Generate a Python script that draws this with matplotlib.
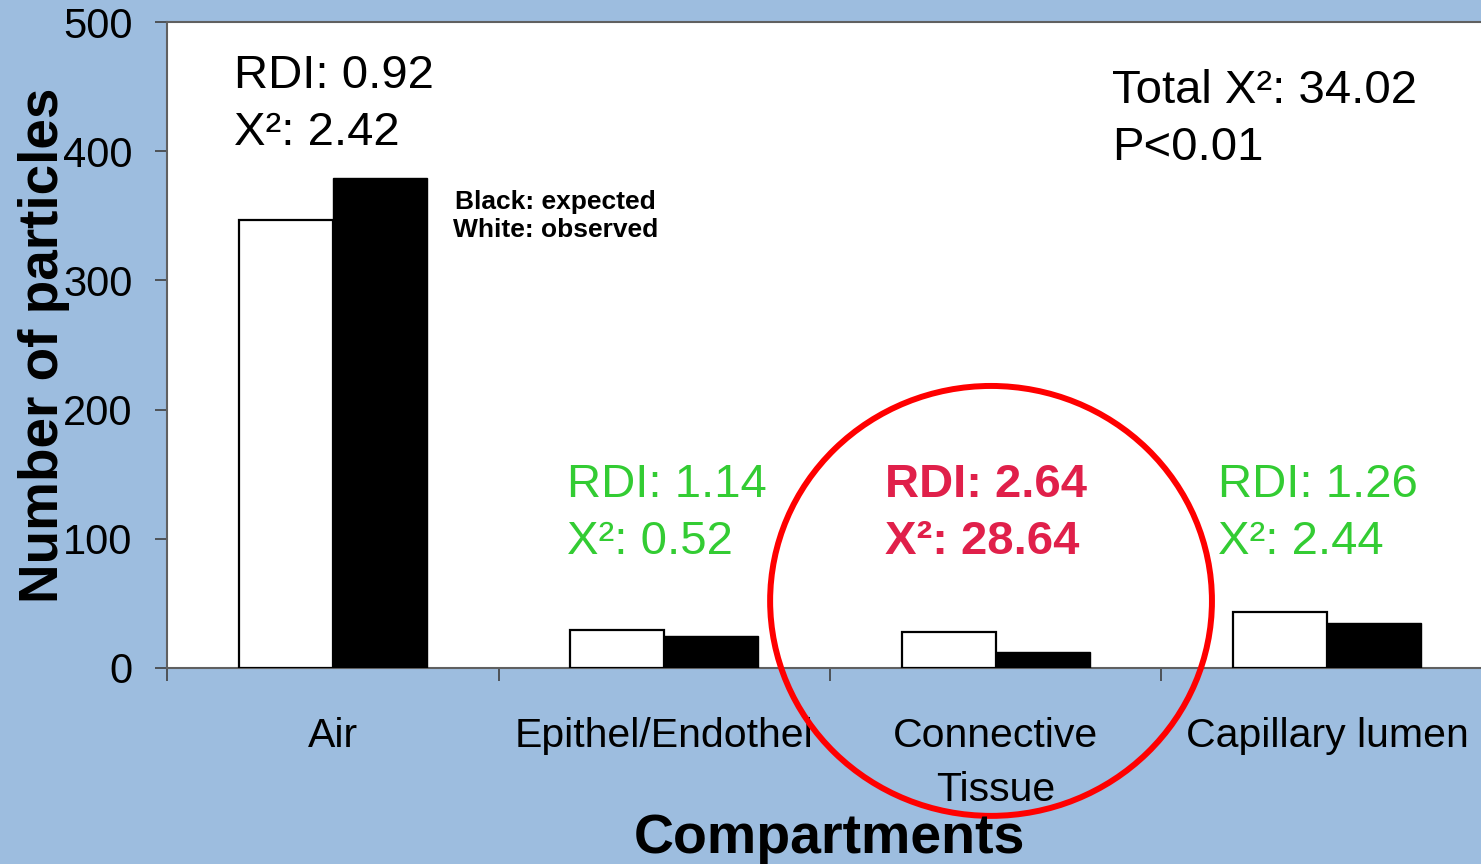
import matplotlib.pyplot as plt
from matplotlib.patches import Ellipse
import numpy as np

plt.rcParams['font.family'] = ['Liberation Sans', 'DejaVu Sans']

categories = ['Air', 'Epithel/Endothel', 'Connective\nTissue', 'Capillary lumen']
observed = [347, 29, 28, 43]   # white bars
expected = [379, 25, 12, 35]   # black bars
rdi = ['0.92', '1.14', '2.64', '1.26']
chi2 = ['2.42', '0.52', '28.64', '2.44']
total_chi2 = '34.02'
p_text = 'P<0.01'

bg = '#9dbddf'
green = '#33cc33'
red = '#e0204a'

fig = plt.figure(figsize=(14.81, 8.64), dpi=100, facecolor=bg)
ax = fig.add_axes([0.1128, 0.2269, 0.8952, 0.7476])
ax.set_facecolor('white')

x = np.arange(len(categories)) + 0.5
w = 0.284
ax.bar(x - w / 2, observed, w, color='white', edgecolor='black', linewidth=1.6, zorder=3)
ax.bar(x + w / 2, expected, w, color='black', edgecolor='black', linewidth=1.0, zorder=3)

ax.set_xlim(0, 4)
ax.set_ylim(0, 500)
ax.set_yticks([0, 100, 200, 300, 400, 500])
ax.tick_params(axis='y', labelsize=30, length=9, width=1.2, color='#404040', pad=16, direction='out')
ax.set_xticks([0, 1, 2, 3])
ax.set_xticklabels([])
ax.set_xticks(x, minor=True)
ax.set_xticklabels(categories, minor=True, fontsize=29.5, linespacing=1.55)
ax.tick_params(axis='x', which='major', length=9, width=1.2, color='#404040', direction='out')
ax.tick_params(axis='x', which='minor', length=0, pad=35)
for s in ['left', 'bottom', 'top']:
    ax.spines[s].set_color('#606060')
    ax.spines[s].set_linewidth(1.5)
ax.spines['right'].set_visible(False)

ax.set_ylabel('Number of particles', fontsize=39.5, fontweight='bold')
ax.yaxis.set_label_coords(-0.073, 0.5)
fig.text(0.56, 0.029, 'Compartments', fontsize=40, fontweight='bold', ha='center', va='center')

# annotations
ax.text(0.202, 458, 'RDI: ' + rdi[0], fontsize=34, va='center', ha='left')
ax.text(0.202, 414, 'X²: ' + chi2[0], fontsize=34, va='center', ha='left')
for i, col, wt in [(1, green, 'normal'), (2, red, 'bold'), (3, green, 'normal')]:
    left = [0, 1.207, 2.166, 3.170][i]
    ax.text(left, 141.5, 'RDI: ' + rdi[i], fontsize=34, color=col, fontweight=wt, va='center', ha='left')
    ax.text(left, 97.5, 'X²: ' + chi2[i], fontsize=34, color=col, fontweight=wt, va='center', ha='left')
ax.text(2.851, 446.5, 'Total X²: ' + total_chi2, fontsize=34, va='center', ha='left')
ax.text(2.851, 402.5, p_text, fontsize=34, va='center', ha='left')

ax.text(1.173, 350, 'Black: expected\nWhite: observed', fontsize=19, fontweight='bold',
        ha='center', va='center', linespacing=1.2)

circle = Ellipse((2.486, 51.9), 1.333, 332.8, fill=False, edgecolor='#ff0000',
                 linewidth=4.3, clip_on=False, zorder=5)
ax.add_patch(circle)

fig.savefig('out.png', dpi=100, facecolor=bg)
